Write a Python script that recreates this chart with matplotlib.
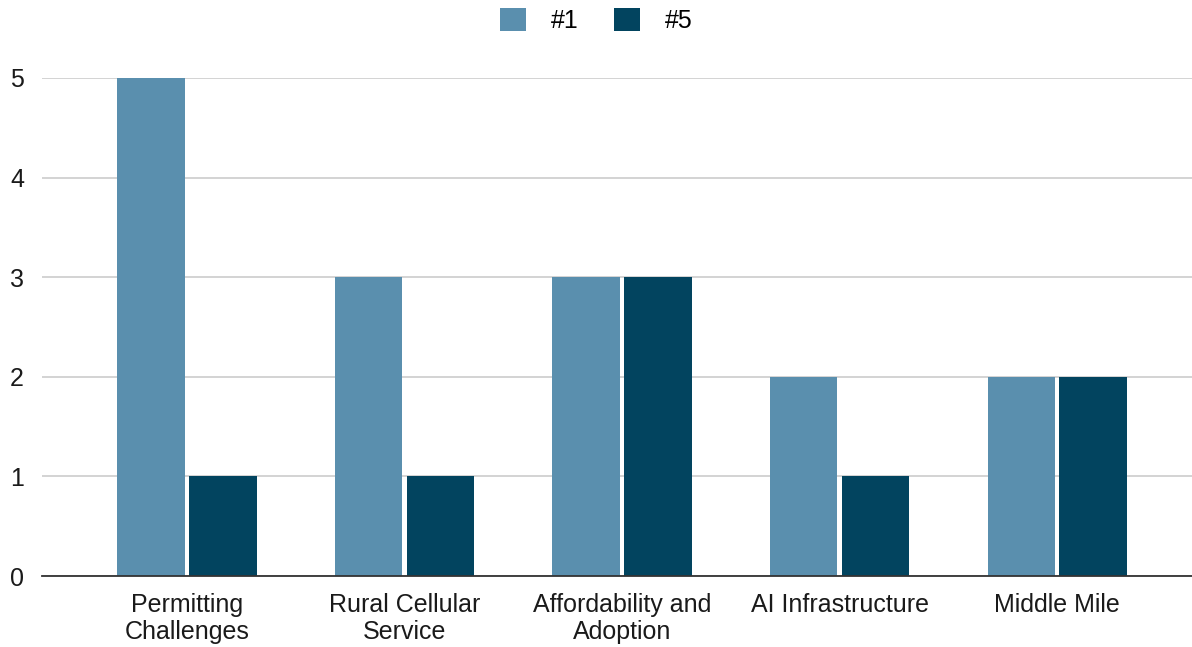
import matplotlib.pyplot as plt
import numpy as np

plt.rcParams['font.family'] = ['Liberation Sans', 'DejaVu Sans']

categories = ['Permitting\nChallenges', 'Rural Cellular\nService', 'Affordability and\nAdoption',
              'AI Infrastructure', 'Middle Mile']
series_names = ['#1', '#5']
rank1 = [5, 3, 3, 2, 2]
rank5 = [1, 1, 3, 1, 2]
colors = ['#5a8fae', '#02445f']

fig = plt.figure(figsize=(11.92, 6.47), dpi=100)
ax = fig.add_axes([0.0352, 0.1097, 0.9648, 0.7698])

x = np.arange(len(categories))
w = 0.31
ax.bar(x - 0.165, rank1, w, color=colors[0], label=series_names[0], zorder=3)
ax.bar(x + 0.165, rank5, w, color=colors[1], label=series_names[1], zorder=3)

ax.set_xlim(-0.667, 4.62)
ax.set_ylim(0, 5)
ax.set_yticks(range(6))
ax.set_xticks(x)
ax.set_xticklabels(categories, fontsize=18, color='#1a1a1a', linespacing=1.15)
ax.tick_params(axis='y', labelsize=18, colors='#1a1a1a', length=0, pad=13)
ax.tick_params(axis='x', length=0, pad=12)
ax.grid(axis='y', color='#cccccc', linewidth=1.2, zorder=0)
for s in ['top', 'right', 'left']:
    ax.spines[s].set_visible(False)
ax.spines['bottom'].set_color('#333333')
ax.spines['bottom'].set_linewidth(1.3)
ax.spines['bottom'].set_zorder(4)

fig.legend(loc='center', bbox_to_anchor=(0.5, 0.968), ncol=2, frameon=False,
           fontsize=18, handlelength=1.05, handleheight=1.05, columnspacing=1.4, handletextpad=1.0)

fig.savefig('out.png', dpi=100)
